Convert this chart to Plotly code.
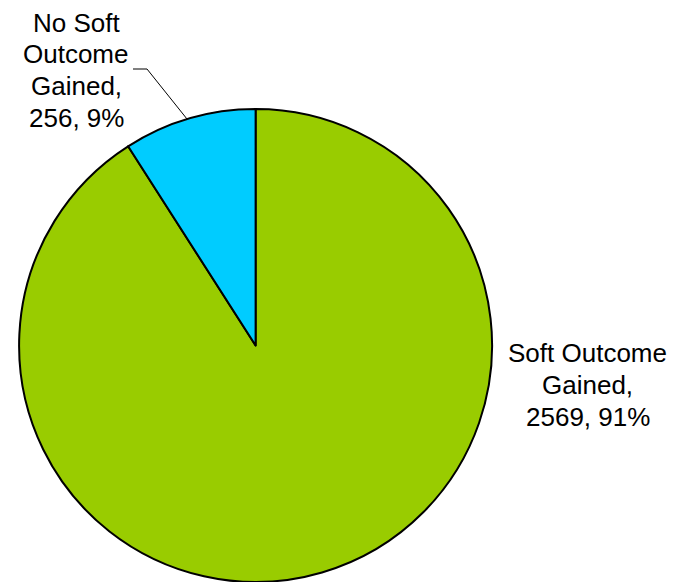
import plotly.graph_objects as go

labels = ["Soft Outcome Gained", "No Soft Outcome Gained"]
values = [2569, 256]
colors = ["#99CC00", "#00CCFF"]
label_lines = [
    ["Soft Outcome", "Gained,", "2569, 91%"],
    ["No Soft", "Outcome", "Gained,", "256, 9%"],
]

W, H = 675, 582
OFF = 8  # page body margin offset of the rendered figure


def px(x):
    return (x - OFF) / W


def py(y):
    return 1 - (y - OFF) / H


fig = go.Figure(go.Pie(
    labels=labels,
    values=values,
    sort=False,
    direction="clockwise",
    rotation=0,
    textinfo="none",
    hoverinfo="label+value+percent",
    marker=dict(colors=colors, line=dict(color="black", width=2)),
    domain=dict(x=[px(18.5), px(492.7)], y=[py(582), py(109)]),
    showlegend=False,
))

font = dict(family="Liberation Sans, Arial, sans-serif", size=26, color="black")

right_y = [353, 385, 417]
left_y = [22.5, 54, 86, 117.5]
for txt, yy in zip(label_lines[0], right_y):
    fig.add_annotation(x=px(587.5), y=py(yy), xref="paper", yref="paper",
                       text=txt, showarrow=False, font=font,
                       xanchor="center", yanchor="middle")
for txt, yy in zip(label_lines[1], left_y):
    fig.add_annotation(x=px(76), y=py(yy), xref="paper", yref="paper",
                       text=txt, showarrow=False, font=font,
                       xanchor="center", yanchor="middle")

# leader line for the small slice label
fig.add_shape(type="path", xref="paper", yref="paper",
              path=f"M {px(133)} {py(69)} L {px(147)} {py(69)} L {px(187)} {py(119)}",
              line=dict(color="black", width=1))

fig.update_layout(
    width=W, height=H,
    margin=dict(l=0, r=0, t=0, b=0),
    paper_bgcolor="white",
    plot_bgcolor="white",
)

fig.write_html("out.html")
